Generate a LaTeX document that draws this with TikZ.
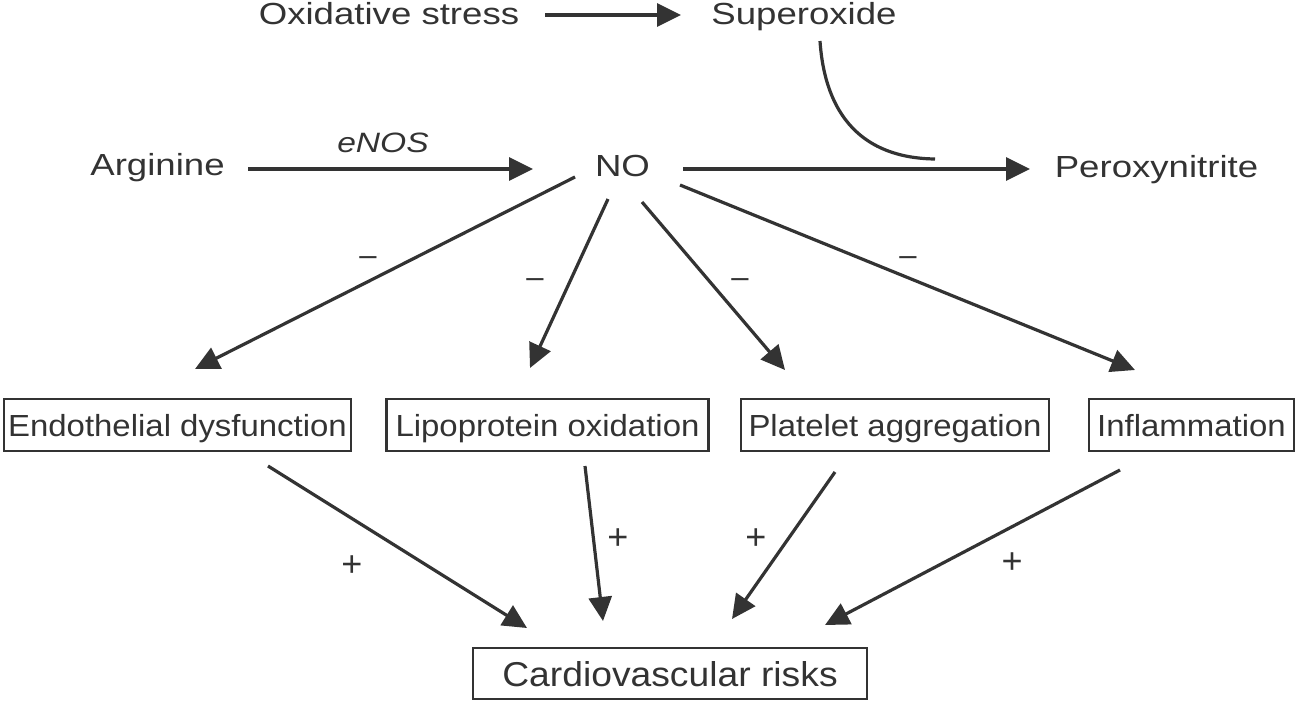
\documentclass[tikz,border=0pt]{standalone}
\usepackage{fontspec}
\setmainfont{Liberation Sans}
\newfontfamily\freefont[FakeStretch=1.2]{Liberation Sans}
\newfontfamily\boxfont[FakeStretch=1.08]{Liberation Sans}
\usetikzlibrary{arrows.meta,calc}
\definecolor{ink}{HTML}{333333}
\begin{document}
\begin{tikzpicture}[x=1pt,y=-1pt,
  freelbl/.style={anchor=base,inner sep=0pt,text=ink,font=\freefont\fontsize{30.5}{34}\selectfont},
  boxlbl/.style={draw=ink,line width=2.6pt,text=ink,inner sep=0pt,text height=22pt,text depth=0pt,
     minimum height=52pt,font=\boxfont\fontsize{30.5}{34}\selectfont},
  minussign/.style={text=ink,inner sep=0pt,font=\fontsize{31}{32}\selectfont},
  plussign/.style={text=ink,inner sep=0pt,font=\fontsize{36}{38}\selectfont},
  conn/.style={draw=ink,line width=3.2pt,-{Triangle[length=24pt,width=23pt]}},
  plainline/.style={draw=ink,line width=3.2pt}]
\useasboundingbox (0,0) rectangle (1303,702);

% free labels
\node[freelbl] (ox) at (389,24) {Oxidative stress};
\node[freelbl] (sup) at (804,24) {Superoxide};
\node[freelbl] (arg) at (157.5,175) {Arginine};
\node[freelbl,font=\freefont\itshape\fontsize{28}{30}\selectfont] (enos) at (383,152) {eNOS};
\node[freelbl] (no) at (622.5,176) {NO};
\node[freelbl] (per) at (1156.5,177) {Peroxynitrite};

% boxes
\node[boxlbl,minimum width=347pt] (endo) at (177.5,425) {Endothelial dysfunction};
\node[boxlbl,minimum width=322pt] (lipo) at (547.5,425) {Lipoprotein oxidation};
\node[boxlbl,minimum width=308pt] (plat) at (895,425) {Platelet aggregation};
\node[boxlbl,minimum width=205pt] (infl) at (1191.5,425) {Inflammation};
\node[boxlbl,minimum width=394pt,minimum height=51pt,text height=25pt,
      font=\boxfont\fontsize{34.5}{38}\selectfont] (cv) at (670,673.5) {Cardiovascular risks};

% connector end points
\coordinate (ox-e) at (545,15);   \coordinate (sup-e) at (681,15);
\coordinate (arg-e) at (248,169); \coordinate (no-w) at (533,169);
\coordinate (no-e) at (683,169);  \coordinate (per-w) at (1030,169);
\coordinate (no-1) at (575,177);  \coordinate (endo-n) at (195,369);
\coordinate (no-2) at (608,199);  \coordinate (lipo-n) at (530,368);
\coordinate (no-3) at (642,202);  \coordinate (plat-n) at (785,370);
\coordinate (no-4) at (680,185);  \coordinate (infl-n) at (1135,370);
\coordinate (endo-s) at (268,466); \coordinate (cv-1) at (527,628);
\coordinate (lipo-s) at (585,466); \coordinate (cv-2) at (603,621);
\coordinate (plat-s) at (835,472); \coordinate (cv-3) at (732,619);
\coordinate (infl-s) at (1120,470); \coordinate (cv-4) at (825,625);
\coordinate (sup-s) at (820,41);  \coordinate (merge) at (935,159);

% connectors
\draw[conn] (ox-e) -- (sup-e);
\draw[conn] (arg-e) -- (no-w);
\draw[conn] (no-e) -- (per-w);
\draw[plainline] (sup-s) .. controls (825,115) and (862,158) .. (merge);
\draw[conn] (no-1) -- (endo-n);
\draw[conn] (no-2) -- (lipo-n);
\draw[conn] (no-3) -- (plat-n);
\draw[conn] (no-4) -- (infl-n);
\draw[conn] (endo-s) -- (cv-1);
\draw[conn] (lipo-s) -- (cv-2);
\draw[conn] (plat-s) -- (cv-3);
\draw[conn] (infl-s) -- (cv-4);

% signs
\node[minussign] (m1) at (368,261) {\textendash};
\node[minussign] (m2) at (535,283) {\textendash};
\node[minussign] (m3) at (740,283) {\textendash};
\node[minussign] (m4) at (908,261) {\textendash};
\node[plussign] (p1) at (352,566) {+};
\node[plussign] (p2) at (618,539) {+};
\node[plussign] (p3) at (756,539) {+};
\node[plussign] (p4) at (1012,563) {+};
\end{tikzpicture}
\end{document}
